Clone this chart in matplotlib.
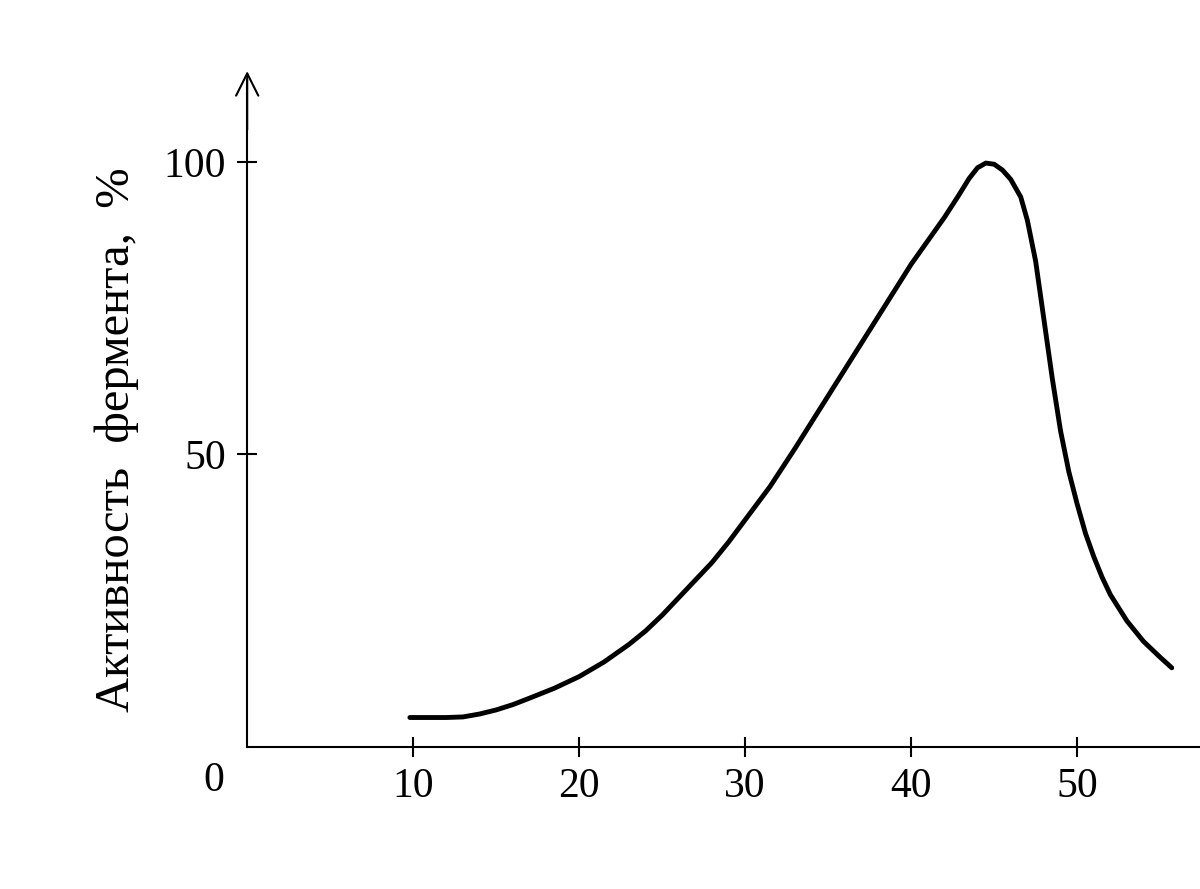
import matplotlib.pyplot as plt

# значення
temp = [9.8, 11, 12, 13, 14, 15, 16, 17, 18.5, 20, 21.5, 23, 24, 25, 26.5, 28, 29, 30,
        31.5, 33, 34, 35, 36, 37, 38, 39, 40, 41, 42, 42.8, 43.5, 44, 44.5, 45, 45.5,
        46, 46.6, 47, 47.5, 48, 48.5, 49, 49.5, 50, 50.5, 51, 51.5, 52, 53, 54, 55, 55.7]
activity = [5, 5, 5, 5.1, 5.6, 6.3, 7.2, 8.3, 10, 12, 14.5, 17.5, 19.8, 22.5, 27, 31.5,
            35, 38.8, 44.5, 51, 55.5, 60, 64.5, 69, 73.5, 78, 82.5, 86.5, 90.5, 94, 97.2,
            99, 99.8, 99.6, 98.6, 97, 94, 90, 83, 73, 63, 54, 47, 41.5, 36.5, 32.5, 29,
            26, 21.5, 18, 15.3, 13.5]
xticks = [10, 20, 30, 40, 50]
yticks = [50, 100]

plt.rcParams['font.family'] = ['Liberation Serif', 'DejaVu Serif']

fig = plt.figure(figsize=(12, 8.89), dpi=100)
ax = fig.add_axes([0.206, 0.16, 0.794, 0.75])
ax.plot(temp, activity, color='black', lw=3.5, solid_capstyle='round', solid_joinstyle='round')

ax.set_xlim(0, 57.4)
ax.set_ylim(0, 114)
for s in ['top', 'right']:
    ax.spines[s].set_visible(False)
ax.spines['left'].set_linewidth(1.5)
ax.spines['bottom'].set_linewidth(1.5)
ax.set_xticks(xticks)
ax.set_yticks(yticks)
ax.tick_params(axis='both', direction='inout', length=14, width=1.5, labelsize=30, pad=8)
ax.annotate('', xy=(0, 116), xytext=(0, 105), xycoords='data',
            arrowprops=dict(arrowstyle='->', lw=1.5, mutation_scale=40), annotation_clip=False)
ax.text(-2, -2.5, '0', fontsize=30, ha='center', va='top')
ax.set_ylabel('Активность  фермента,  %', fontsize=35, labelpad=18, y=0.46)

fig.savefig('out.png')
